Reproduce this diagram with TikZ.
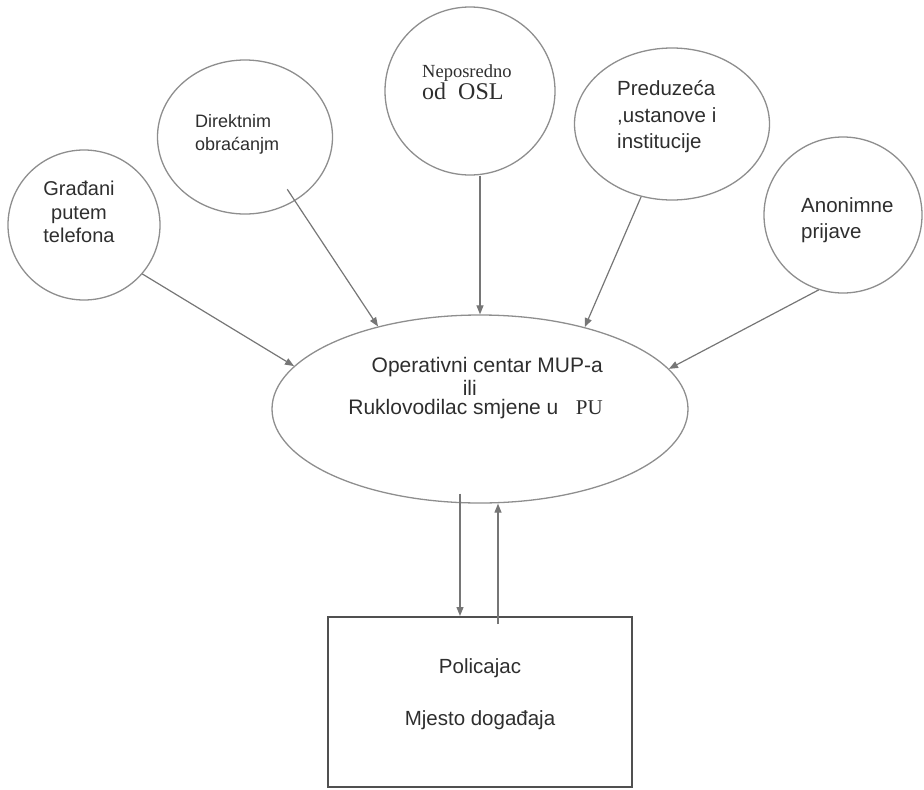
\documentclass[tikz,border=0pt]{standalone}
\usepackage{fontspec}
\setmainfont{Liberation Sans}
\newfontfamily\serifnote{Liberation Serif}
\usepackage{tikz}
\usetikzlibrary{arrows.meta,positioning,shapes.geometric,calc}
\definecolor{edgegray}{HTML}{8E8E8E}
\definecolor{linegray}{HTML}{767676}
\definecolor{boxgray}{HTML}{505050}
\definecolor{inkgray}{HTML}{2E2E2E}

\begin{document}
\begin{tikzpicture}[x=1pt,y=-1pt,>={Triangle[length=9pt,width=7pt]},
  src/.style={draw=edgegray,line width=1.3pt,ellipse,inner sep=0pt},
  lbl/.style={text=inkgray,inner sep=0pt,font=\fontsize{20}{23.5}\selectfont},
  arr/.style={->,draw=linegray,line width=1.2pt,color=linegray}]
\useasboundingbox (0,0) rectangle (924,790);
% izvori dojave
\node[src,minimum width=152pt,minimum height=150pt] (gradjani) at (84,225) {};
\node[src,minimum width=175pt,minimum height=154pt] (direkt) at (245,137) {};
\node[src,minimum width=170pt,minimum height=168pt] (osl) at (470,91) {};
\node[src,minimum width=195pt,minimum height=152pt] (preduz) at (672,124) {};
\node[src,minimum width=158pt,minimum height=156pt] (anonim) at (843,215) {};
\node[lbl,align=center] (gradjani-t) at (79,212) {Građani\\putem\\telefona};
\node[lbl,align=left,anchor=west,font=\fontsize{18}{23}\selectfont] (direkt-t) at (195,134) {Direktnim\\obraćanjm};
\node[lbl,align=left,anchor=west,font=\serifnote] (osl-t) at (422,82) {{\fontsize{18.5}{26}\selectfont Neposredno}\\{\fontsize{24}{26}\selectfont od\ \ OSL}};
\node[lbl,align=left,anchor=west,font=\fontsize{20.5}{26.5}\selectfont] (preduz-t) at (617,117) {Preduzeća\\,ustanove i\\institucije};
\node[lbl,align=left,anchor=west,font=\fontsize{20.5}{26}\selectfont] (anonim-t) at (801,220) {Anonimne\\prijave};
% centar i mjesto dogadjaja
\node[src,minimum width=416pt,minimum height=188pt] (centar) at (480,409) {};
\node[lbl,align=right,anchor=east,font=\fontsize{21}{23}\selectfont] (centar-t) at (603,388) {Operativni centar MUP-a\\ili\rule{126pt}{0pt}\\[-4pt]Ruklovodilac smjene u\ \ \ {\serifnote PU}};
\node[draw=boxgray,line width=2pt,minimum width=304pt,minimum height=170pt,inner sep=0pt] (mjesto) at (480,702) {};
\node[lbl,align=center,font=\fontsize{20.5}{26}\selectfont] (mjesto-t) at (480,694) {Policajac\\[26pt]Mjesto događaja};
% veze
\draw[arr] (gradjani.-40)--(centar.167.7);
\draw[arr,shorten <=-14pt] (direkt.-52)--(centar.141.7);
\draw[arr] (osl.south -| centar.north)--(centar.north);
\draw[arr] (preduz.-113.7)--(centar.38.9);
\draw[arr] (anonim.-108.4)--(centar.12.3);
\draw[arr] ([xshift=-20pt,yshift=10pt]centar.south)--([xshift=-20pt]mjesto.north);
\draw[arr] ([xshift=18pt,yshift=-8pt]mjesto.north)--([xshift=18pt]centar.south);
\end{tikzpicture}
\end{document}
